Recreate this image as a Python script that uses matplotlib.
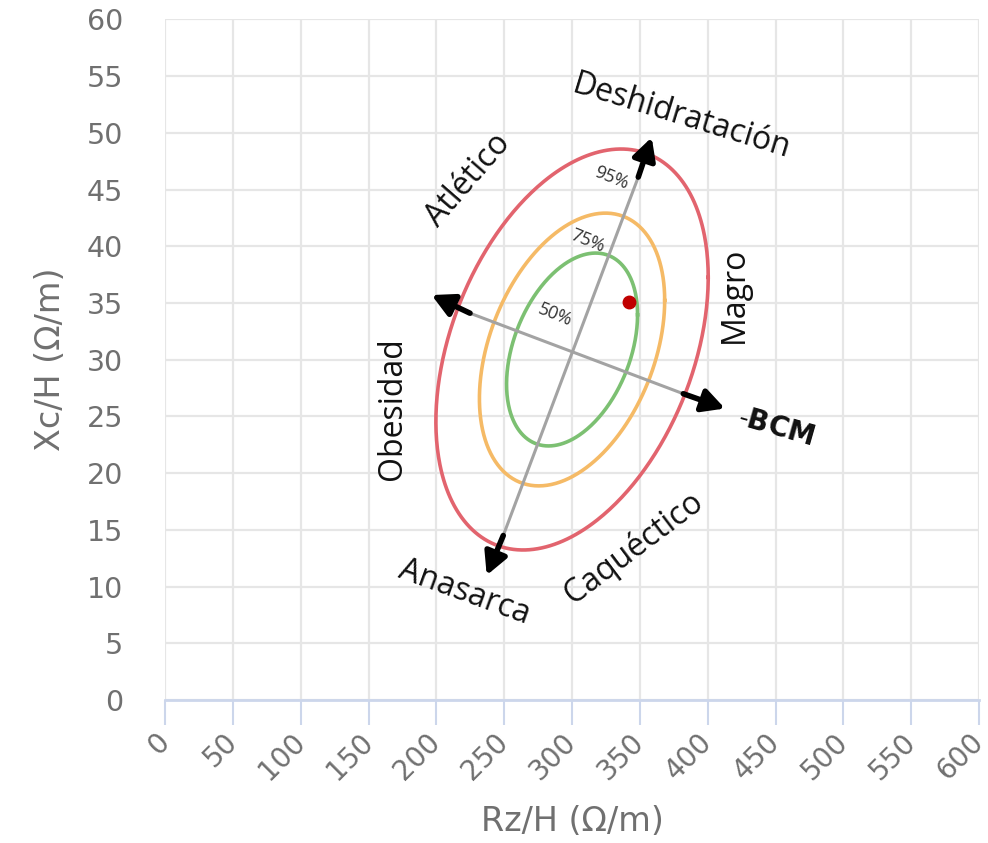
"""
BIVA chart: Rz/H vs Xc/H tolerance ellipses with vector axes.
"""
import numpy as np
import matplotlib
matplotlib.use("Agg")
import matplotlib.pyplot as plt

# tolerance ellipse parameters (bivariate normal, data units)
center = (300.0, 30.9)
sd_rz = 41.0
sd_xc = 7.22
rho = 0.36
levels = [0.50, 0.75, 0.95]
level_labels = ["50%", "75%", "95%"]
level_colors = ["#7cc072", "#f5ba66", "#e2646e"]

# measured point
point_rz = [342.2]
point_xc = [35.1]

# vector axes: (black segment start, arrow tip)
major_low = [(249.3, 14.5), (237.1, 11.0)]
major_high = [(348.8, 46.1), (358.7, 49.6)]
minor_left = [(224.8, 34.1), (196.5, 35.7)]
minor_right = [(382.0, 27.0), (412.7, 25.7)]

x_ticks = list(range(0, 601, 50))
y_ticks = list(range(0, 61, 5))

TICK_COLOR = "#707070"
AXIS_BLUE = "#ccd6eb"

fig = plt.figure(figsize=(9.88, 8.43), dpi=100)
ax = fig.add_axes([0.167, 0.1696, 0.824, 0.8074])

ax.set_xlim(0, 600)
ax.set_ylim(0, 60)
ax.set_xticks(x_ticks)
ax.set_yticks(y_ticks)
ax.grid(True, color="#e6e6e6", lw=1.6, zorder=0)
ax.set_axisbelow(True)
for side in ("top", "right", "left"):
    ax.spines[side].set_visible(False)
ax.spines["bottom"].set_color(AXIS_BLUE)
ax.spines["bottom"].set_linewidth(2)

ax.tick_params(axis="x", length=18, width=1.5, color=AXIS_BLUE, pad=2,
               labelsize=20, labelcolor=TICK_COLOR)
ax.tick_params(axis="y", length=0, pad=30, labelsize=20.5, labelcolor=TICK_COLOR)
plt.setp(ax.get_xticklabels(), rotation=45, ha="right", va="center",
         rotation_mode="anchor")
for lab in ax.get_xticklabels():
    lab.set_transform(lab.get_transform() +
                      matplotlib.transforms.ScaledTranslation(0.0, -0.1, fig.dpi_scale_trans))

ax.set_xlabel("Rz/H (\u03a9/m)", fontsize=24, color=TICK_COLOR, labelpad=14)
ax.set_ylabel("Xc/H (\u03a9/m)", fontsize=24, color=TICK_COLOR, labelpad=14)

# ellipses
t = np.linspace(0, 2 * np.pi, 400)
for p, col in zip(levels, level_colors):
    k = np.sqrt(-2 * np.log(1 - p))
    ex = center[0] + k * sd_rz * np.cos(t)
    ey = center[1] + k * sd_xc * (rho * np.cos(t) + np.sqrt(1 - rho ** 2) * np.sin(t))
    ax.plot(ex, ey, color=col, lw=2.6, zorder=2)

# gray axis lines
ax.plot([major_low[0][0], major_high[0][0]], [major_low[0][1], major_high[0][1]],
        color="#a3a3a3", lw=2.2, zorder=3)
ax.plot([minor_left[0][0], minor_right[0][0]], [minor_left[0][1], minor_right[0][1]],
        color="#a3a3a3", lw=2.2, zorder=3)

# black arrow ends
for start, tip in (major_low, major_high, minor_left, minor_right):
    ax.annotate("", xy=tip, xytext=start,
                arrowprops=dict(arrowstyle="-|>,head_length=0.95,head_width=0.5",
                                lw=4, color="black", shrinkA=0, shrinkB=0,
                                mutation_scale=14),
                zorder=4)

ax.plot(point_rz, point_xc, "o", color="#c00000", ms=9, zorder=5)

# region labels
lab_font = dict(family="Open Sans", fontsize=23, color="#111111",
                ha="center", va="center", rotation_mode="anchor")
ax.text(380.8, 51.4, "Deshidrataci\u00f3n", rotation=-17, **lab_font)
ax.text(223.3, 45.8, "Atl\u00e9tico", rotation=49, **lab_font)
ax.text(420.0, 35.7, "Magro", rotation=90, **lab_font)
ax.text(168.0, 25.7, "Obesidad", rotation=90, **lab_font)
ax.text(221.0, 9.5, "Anasarca", rotation=-20, **lab_font)
ax.text(345.6, 13.4, "Caqu\u00e9ctico", rotation=37, **lab_font)
ax.text(450.3, 24.0, "-$\\mathbf{BCM}$", rotation=-16, family="Open Sans",
        fontsize=20, color="#111111", ha="center", va="center", rotation_mode="anchor")

pct_pos = [(287.4, 33.9), (311.5, 40.5), (329.2, 46.0)]
for (px, py), txt in zip(pct_pos, level_labels):
    ax.text(px, py, txt, rotation=-22, family="Open Sans", fontsize=13,
            color="#333333", ha="center", va="center", rotation_mode="anchor", zorder=6)

fig.savefig("out.png", dpi=100)
